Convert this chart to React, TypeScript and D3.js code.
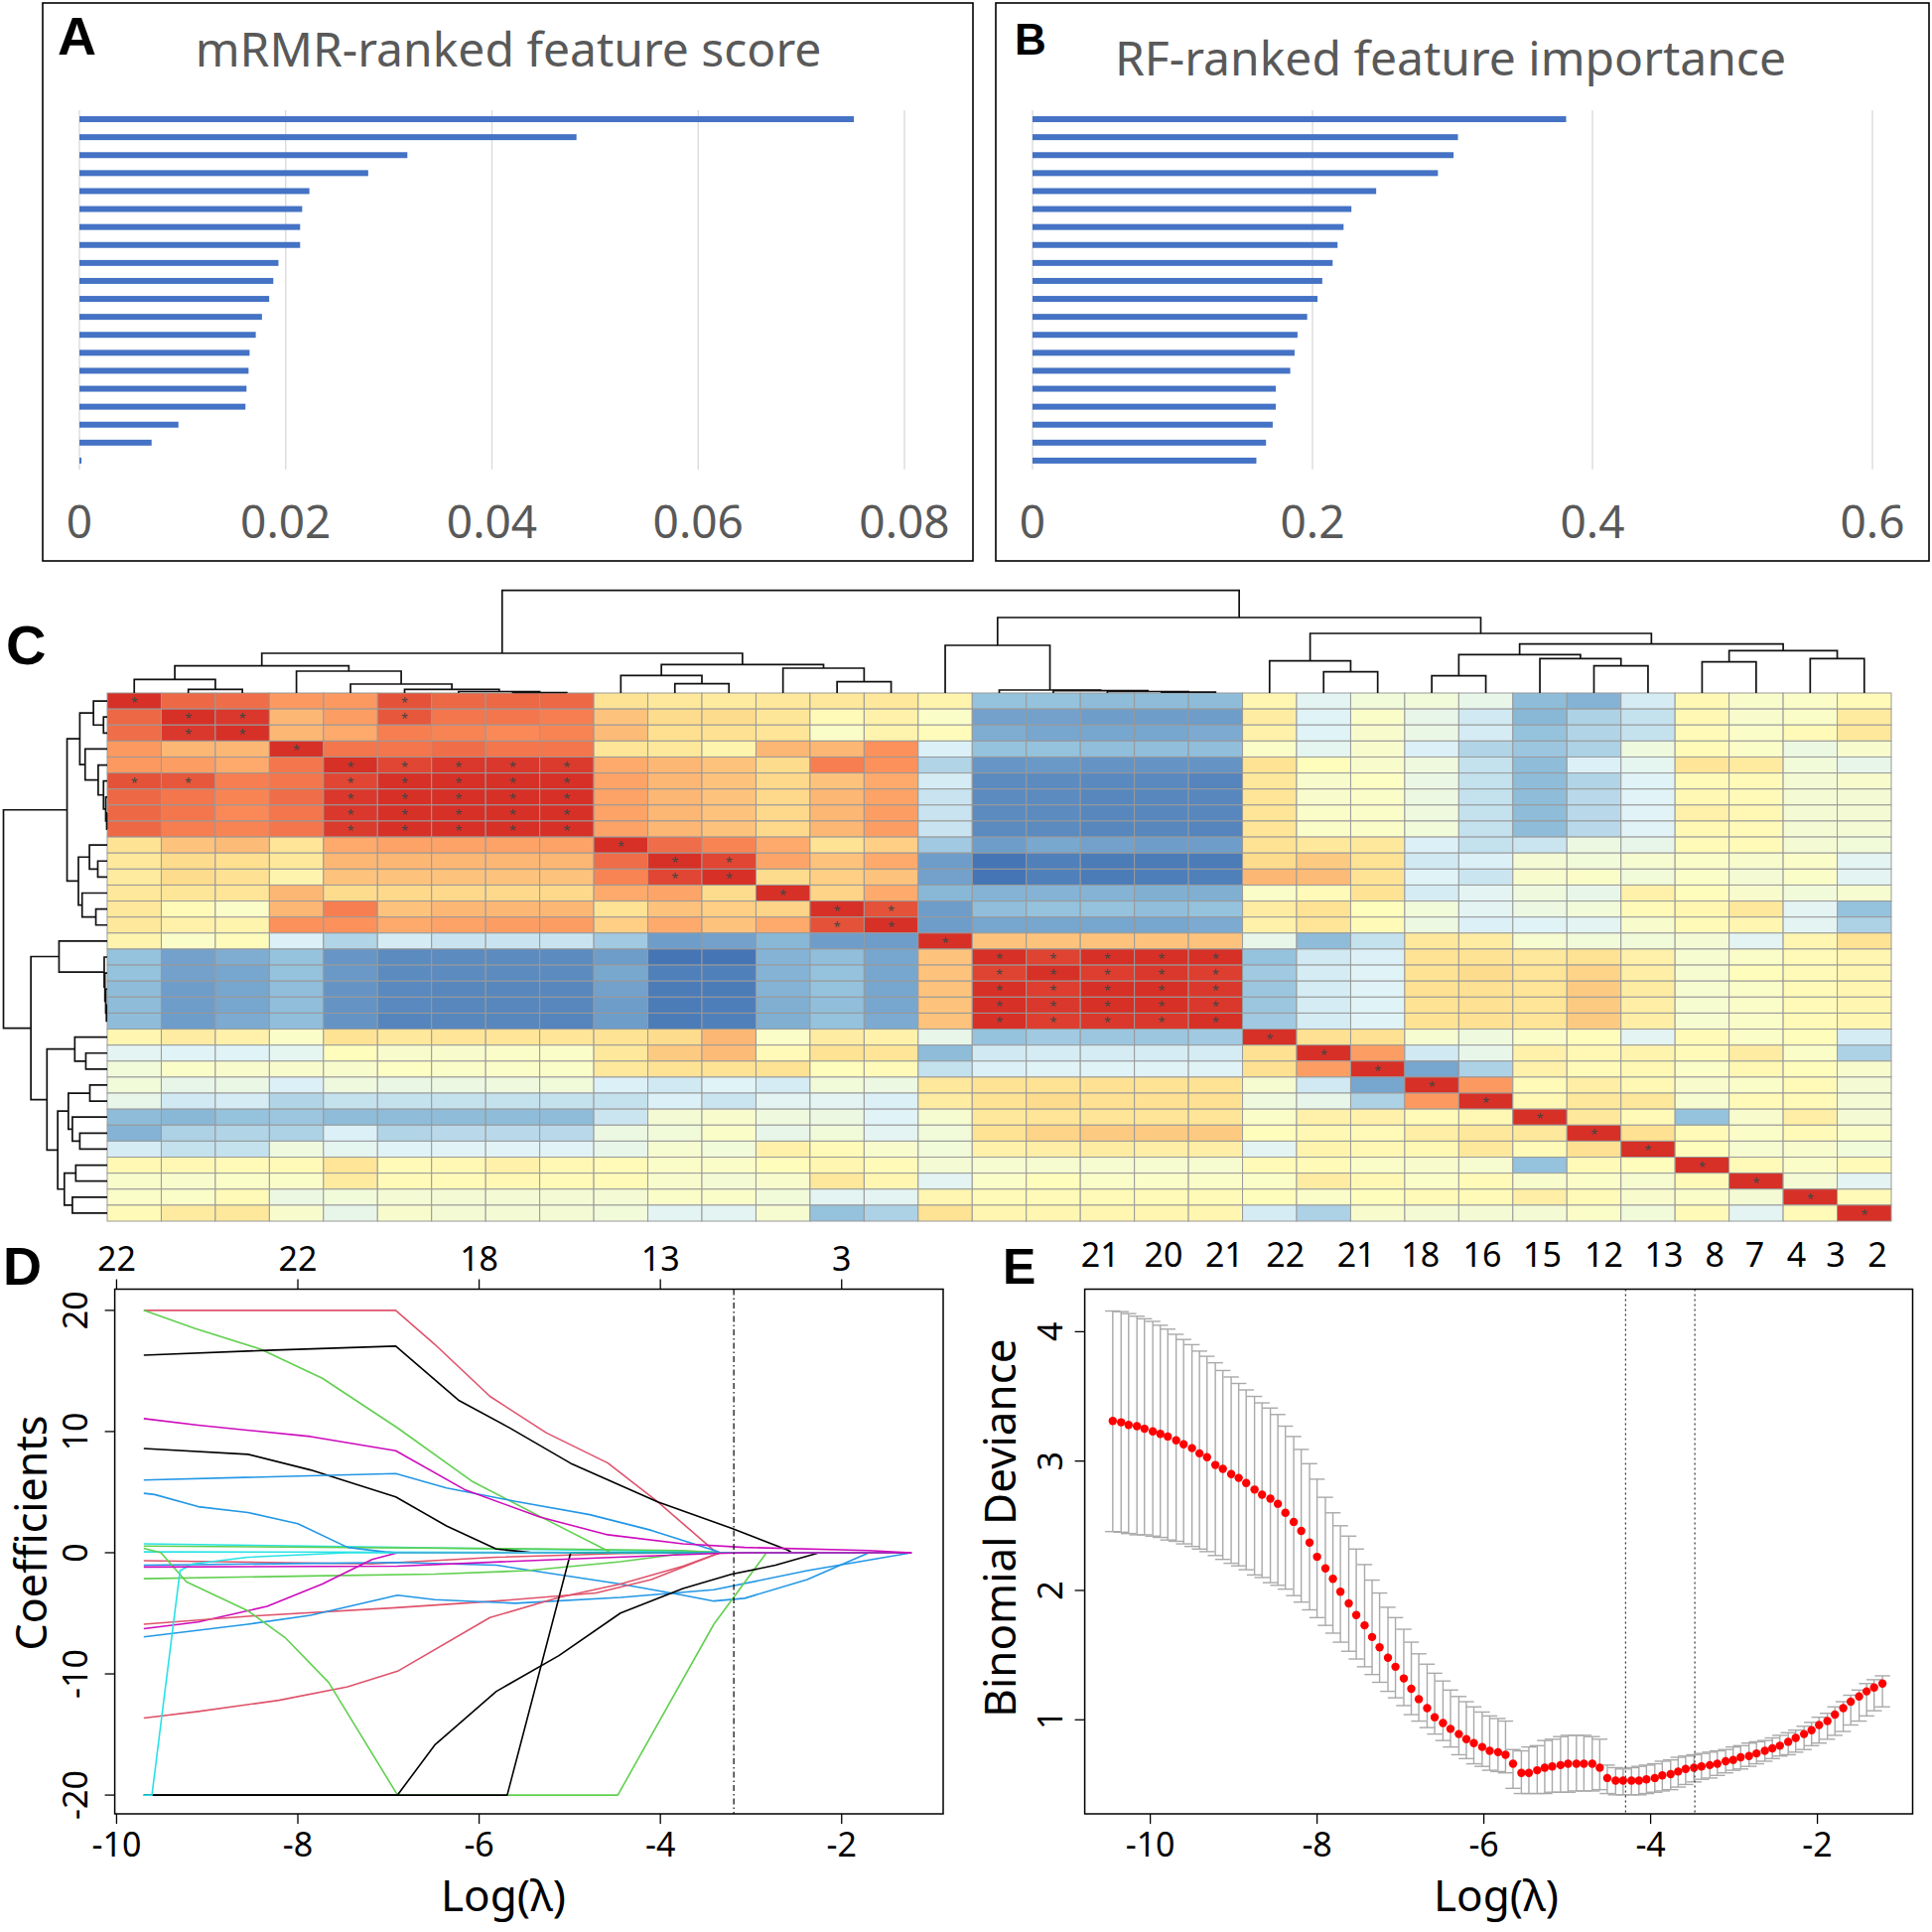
import React from 'react';
import * as d3 from 'd3';

// ---------------- Panel A / B data ----------------
const mrmrScores = [0.0751, 0.0482, 0.0318, 0.028, 0.0223, 0.0216, 0.0214, 0.0214, 0.0193, 0.0188, 0.0184, 0.0177, 0.0171, 0.0165, 0.0164, 0.0162, 0.0161, 0.0096, 0.007, 0.0002];
const mrmrTicks = [0, 0.02, 0.04, 0.06, 0.08];
const mrmrTickLabels = ['0', '0.02', '0.04', '0.06', '0.08'];
const rfScores = [0.3812, 0.3039, 0.3008, 0.2896, 0.2455, 0.2278, 0.2222, 0.2179, 0.2144, 0.207, 0.2036, 0.1962, 0.1893, 0.1872, 0.1841, 0.1738, 0.1738, 0.1716, 0.1668, 0.1599];
const rfTicks = [0, 0.2, 0.4, 0.6];
const rfTickLabels = ['0', '0.2', '0.4', '0.6'];

// ---------------- Panel C data (upper triangle, row i holds cols i..32) ----------------
const corrUpper: number[][] = [
  [1, 0.8, 0.78, 0.62, 0.62, 0.88, 0.8, 0.8, 0.8, 0.3, 0.25, 0.22, 0.25, 0.25, 0.25, 0.12, -0.65, -0.65, -0.68, -0.68, -0.68, 0.1, -0.3, -0.15, -0.15, -0.25, -0.68, -0.72, -0.38, 0.08, -0.07, -0.05, 0.05],
  [1, 0.97, 0.5, 0.6, 0.86, 0.75, 0.75, 0.72, 0.45, 0.35, 0.35, 0.27, 0.05, 0.15, -0.05, -0.8, -0.8, -0.82, -0.82, -0.82, 0.2, -0.33, -0.05, -0.25, -0.4, -0.7, -0.55, -0.45, 0.08, -0.08, -0.05, 0.22],
  [1, 0.5, 0.55, 0.72, 0.7, 0.68, 0.7, 0.48, 0.33, 0.32, 0.28, -0.05, 0.12, 0.03, -0.75, -0.78, -0.78, -0.78, -0.76, 0.15, -0.33, -0.08, -0.22, -0.38, -0.65, -0.53, -0.45, 0.05, -0.05, 0.05, 0.25],
  [1, 0.75, 0.75, 0.78, 0.75, 0.75, 0.28, 0.25, 0.12, 0.5, 0.5, 0.65, -0.35, -0.65, -0.65, -0.67, -0.67, -0.67, -0.05, -0.28, -0.08, -0.35, -0.53, -0.62, -0.55, -0.18, 0.05, -0.05, -0.2, -0.08],
  [1, 0.92, 0.97, 0.97, 0.96, 0.55, 0.5, 0.45, 0.35, 0.72, 0.65, -0.53, -0.85, -0.84, -0.86, -0.86, -0.86, 0.3, 0.02, -0.08, -0.18, -0.45, -0.68, -0.35, -0.28, 0.28, 0.22, -0.15, -0.25],
  [1, 1, 1, 1, 0.58, 0.5, 0.45, 0.36, 0.45, 0.55, -0.38, -0.9, -0.9, -0.91, -0.91, -0.93, 0.25, -0.08, -0.03, -0.22, -0.45, -0.68, -0.53, -0.33, 0.05, 0.05, -0.12, -0.08],
  [1, 1, 1, 0.58, 0.5, 0.45, 0.36, 0.5, 0.58, -0.43, -0.9, -0.9, -0.92, -0.92, -0.92, 0.28, -0.08, -0.05, -0.2, -0.45, -0.68, -0.5, -0.32, 0.08, 0.05, -0.12, -0.12],
  [1, 1, 0.58, 0.5, 0.45, 0.36, 0.5, 0.6, -0.43, -0.9, -0.9, -0.92, -0.92, -0.92, 0.28, -0.05, -0.05, -0.18, -0.45, -0.68, -0.5, -0.32, 0.15, 0.08, -0.12, -0.12],
  [1, 0.58, 0.5, 0.45, 0.36, 0.5, 0.6, -0.43, -0.9, -0.9, -0.92, -0.92, -0.93, 0.28, -0.05, -0.05, -0.15, -0.45, -0.68, -0.5, -0.32, 0.08, 0.05, -0.12, -0.12],
  [1, 0.78, 0.7, 0.55, 0.3, 0.4, -0.6, -0.82, -0.77, -0.8, -0.82, -0.82, 0.3, 0.25, 0.25, -0.35, -0.45, -0.42, -0.2, -0.25, 0.05, 0.05, -0.12, -0.15],
  [1, 0.92, 0.57, 0.45, 0.55, -0.82, -1, -0.95, -0.97, -0.97, -0.97, 0.35, 0.42, 0.3, -0.4, -0.35, -0.12, -0.15, -0.1, -0.05, -0.08, -0.05, -0.3],
  [1, 0.35, 0.4, 0.45, -0.8, -1, -0.95, -0.97, -0.96, -0.95, 0.5, 0.48, 0.3, -0.33, -0.42, -0.08, -0.05, -0.15, -0.05, -0.12, -0.05, -0.3],
  [1, 0.38, 0.55, -0.7, -0.72, -0.72, -0.72, -0.74, -0.74, -0.05, 0.05, 0.3, -0.38, -0.3, -0.18, -0.25, 0.15, 0.02, -0.08, -0.15, -0.1],
  [1, 0.88, -0.82, -0.67, -0.65, -0.65, -0.67, -0.65, 0.2, 0.3, 0.02, -0.15, -0.3, -0.2, -0.15, 0.05, 0.1, 0.25, -0.3, -0.65],
  [1, -0.82, -0.78, -0.78, -0.78, -0.78, -0.76, 0.15, 0.28, 0.05, -0.2, -0.35, -0.33, -0.3, -0.08, 0.05, 0.1, -0.3, -0.55],
  [1, 0.45, 0.45, 0.45, 0.45, 0.45, -0.25, -0.68, -0.45, 0.25, 0.2, -0.1, -0.15, -0.15, -0.12, -0.3, 0.1, 0.3],
  [1, 0.93, 1, 1, 1, -0.65, -0.4, -0.35, 0.3, 0.3, 0.25, 0.3, 0.15, -0.1, -0.05, 0.05, 0.1],
  [1, 0.95, 0.97, 0.95, -0.6, -0.38, -0.33, 0.3, 0.35, 0.28, 0.38, 0.18, -0.1, 0.02, 0.05, 0.1],
  [1, 1, 0.97, -0.62, -0.38, -0.33, 0.32, 0.32, 0.28, 0.42, 0.2, -0.1, -0.05, 0.05, 0.1],
  [1, 0.97, -0.62, -0.38, -0.33, 0.3, 0.32, 0.28, 0.42, 0.18, -0.1, -0.05, 0.05, 0.1],
  [1, -0.6, -0.38, -0.33, 0.3, 0.32, 0.28, 0.42, 0.18, -0.1, -0.05, 0.05, 0.1],
  [1, 0.32, 0.32, -0.1, -0.18, -0.05, 0.02, -0.3, 0.05, -0.05, 0.02, -0.38],
  [1, 0.6, -0.4, -0.25, 0.15, 0.08, 0.12, 0.05, 0.2, -0.05, -0.55],
  [1, -0.78, -0.55, 0.15, 0.05, 0.08, -0.05, 0.08, 0.02, -0.08],
  [1, 0.62, 0.05, 0.18, 0.08, -0.08, -0.05, 0.05, -0.12],
  [1, 0.08, 0.25, 0.25, -0.1, 0.05, 0.05, -0.12],
  [1, 0.25, 0.05, -0.65, -0.08, 0.18, -0.12],
  [1, 0.32, 0.05, -0.05, 0.05, -0.05],
  [1, 0.02, -0.1, -0.08, -0.15],
  [1, 0.05, -0.05, 0.05],
  [1, -0.12, -0.3],
  [1, 0.05],
  [1],
];
// dendrogram: [height, left, right]; leaves are column/row indices
type TreeNode = number | [number, TreeNode, TreeNode];
const featureTree: TreeNode = [103.3,
  [40,
    [27.3, [13.7, 0, [3.7, 1, 2]], [22, 3, [9, 4, [3.7, 5, [1.5, 6, [0.5, 7, 8]]]]]],
    [28.7, [17.7, 9, [9.4, 10, 11]], [25, 12, [11.3, 13, 14]]]],
  [76,
    [48, 15, [3, 16, [2.3, 17, [1.5, 18, [0.8, 19, 20]]]]],
    [60,
      [32.3, 21, [21.3, 22, 23]],
      [49.3,
        [38.7, [17.3, 24, 25], [34.7, 26, [27.3, 27, 28]]],
        [42.7, [31.3, 29, 30], [34.7, 31, 32]]]]]];
const heatColors = ['#4575B4', '#91BFDB', '#E0F3F8', '#FFFFBF', '#FEE090', '#FC8D59', '#D73027'];
const heatStops = [-1, -0.667, -0.333, 0, 0.333, 0.667, 1];

// ---------------- Panel D data ----------------
const coefColors = ['#000000', '#DF536B', '#61D04F', '#2297E6', '#28E2E5', '#CD0BBC'];
const coefPaths: { c: number; p: number[][] }[] = [
  { c: 4, p: [[-9.7, 0.07], [-1.23, 0]] },
  { c: 4, p: [[-9.7, 0.74], [-3.41, 0.07], [-3.34, 0], [-1.23, 0]] },
  { c: 2, p: [[-9.7, 0.55], [-5.12, 0.3], [-3.75, 0.18], [-3.3, 0], [-1.23, 0]] },
  { c: 1, p: [[-9.7, 20], [-6.92, 20], [-6.49, 17.2], [-5.88, 12.9], [-5.26, 9.9], [-4.58, 7.4], [-4.03, 4.2], [-3.41, 0.2], [-3.34, 0], [-1.23, 0]] },
  { c: 2, p: [[-9.7, 20], [-9.13, 18.5], [-8.41, 16.8], [-7.73, 14.4], [-6.9, 10.3], [-6.08, 5.9], [-5.33, 3.0], [-4.61, 0.26], [-4.55, 0], [-1.23, 0]] },
  { c: 0, p: [[-9.7, 16.3], [-8.34, 16.7], [-6.92, 17.05], [-6.22, 12.55], [-5.67, 10.33], [-4.99, 7.38], [-4.03, 4.2], [-3.21, 2.0], [-2.59, 0.2], [-2.55, 0], [-1.23, 0]] },
  { c: 0, p: [[-9.7, 8.6], [-8.55, 8.12], [-7.86, 6.83], [-6.92, 4.61], [-6.36, 2.21], [-5.81, 0.3], [-5.6, 0.15], [-5.4, 0], [-1.23, 0]] },
  { c: 3, p: [[-9.7, 6.0], [-6.92, 6.53], [-6.36, 5.35], [-5.6, 4.24], [-4.78, 3.14], [-4.1, 1.85], [-3.41, 0.2], [-3.34, 0], [-1.23, 0]] },
  { c: 3, p: [[-9.7, 4.9], [-9.58, 4.8], [-9.1, 3.8], [-8.55, 3.32], [-8.0, 2.4], [-7.45, 0.44], [-7.04, 0.07], [-6.9, 0], [-1.23, 0]] },
  { c: 1, p: [[-9.7, -0.66], [-7.18, -0.92], [-5.81, -0.37], [-4.44, -0.07], [-3.75, 0], [-1.23, 0]] },
  { c: 3, p: [[-9.7, -1.03], [-6.9, -0.8], [-5.81, -1.03], [-4.44, -2.58], [-3.75, -3.5], [-3.41, -3.99], [-3.07, -3.76], [-2.38, -2.21], [-1.7, 0], [-1.23, 0]] },
  { c: 2, p: [[-9.7, -2.14], [-7.86, -1.92], [-6.49, -1.77], [-5.47, -1.48], [-4.44, -0.74], [-3.75, -0.07], [-3.6, 0], [-1.23, 0]] },
  { c: 5, p: [[-9.7, -6.27], [-9.1, -5.72], [-8.34, -4.43], [-7.73, -2.58], [-7.18, -0.55], [-6.9, 0], [-1.23, 0]] },
  { c: 1, p: [[-9.7, -5.9], [-8.55, -5.24], [-6.92, -4.54], [-5.81, -3.99], [-4.71, -3.32], [-4.1, -2.21], [-3.41, -0.18], [-3.34, 0], [-1.23, 0]] },
  { c: 3, p: [[-9.7, -6.94], [-8.55, -5.9], [-7.86, -5.17], [-6.9, -3.51], [-6.49, -3.87], [-5.6, -4.17], [-4.44, -3.69], [-3.41, -3.06], [-2.38, -1.48], [-1.23, 0]] },
  { c: 1, p: [[-9.7, -13.65], [-9.1, -13.1], [-8.21, -12.18], [-7.45, -11.07], [-6.9, -9.78], [-5.88, -5.35], [-5.12, -3.69], [-4.44, -2.58], [-3.75, -1.11], [-3.41, -0.18], [-3.34, 0], [-1.23, 0]] },
  { c: 2, p: [[-9.7, 0.37], [-9.51, 0], [-9.23, -2.4], [-8.55, -4.8], [-8.14, -7.01], [-7.66, -10.7], [-6.9, -20], [-4.47, -20], [-3.41, -5.9], [-2.83, 0], [-1.23, 0]] },
  { c: 0, p: [[-9.7, -20], [-6.9, -20], [-6.49, -15.87], [-5.81, -11.44], [-5.12, -8.49], [-4.44, -4.98], [-3.75, -2.95], [-3.21, -1.77], [-2.73, -1.03], [-2.25, 0], [-1.23, 0]] },
  { c: 0, p: [[-9.7, -20], [-5.69, -20], [-4.99, 0], [-1.23, 0]] },
  { c: 4, p: [[-9.7, -20], [-9.61, -20], [-9.3, -1.48], [-9.16, -0.92], [-8.55, -0.37], [-7.45, 0], [-1.23, 0]] },
  { c: 5, p: [[-9.7, -1.18], [-6.9, -1.11], [-5.12, -0.55], [-3.41, -0.07], [-3.07, 0], [-1.23, 0]] },
  { c: 5, p: [[-9.7, 11.07], [-9.1, 10.52], [-7.86, 9.59], [-6.92, 8.41], [-6.15, 5.17], [-5.33, 2.95], [-4.58, 1.48], [-3.75, 0.74], [-3.07, 0.44], [-1.7, 0.18], [-1.23, 0]] },
];
const dXTicks = [-10, -8, -6, -4, -2];
const dTopLabels = ['22', '22', '18', '13', '3'];
const dYTicks = [20, 10, 0, -10, -20];
const dLambdaSel = -3.19;

// ---------------- Panel E data ----------------
const logLambdaE = [-10.45, -10.35, -10.26, -10.16, -10.07, -9.97, -9.88, -9.79, -9.69, -9.6,
  -9.5, -9.41, -9.32, -9.22, -9.13, -9.03, -8.94, -8.85, -8.75, -8.66,
  -8.56, -8.47, -8.38, -8.28, -8.19, -8.09, -8.0, -7.9, -7.81, -7.72,
  -7.62, -7.53, -7.43, -7.34, -7.25, -7.15, -7.06, -6.96, -6.87, -6.78,
  -6.68, -6.59, -6.49, -6.4, -6.3, -6.21, -6.12, -6.02, -5.93, -5.83,
  -5.74, -5.65, -5.55, -5.46, -5.36, -5.27, -5.18, -5.08, -4.99, -4.89,
  -4.8, -4.7, -4.61, -4.52, -4.42, -4.33, -4.23, -4.14, -4.05, -3.95,
  -3.86, -3.76, -3.67, -3.58, -3.48, -3.39, -3.29, -3.2, -3.1, -3.01,
  -2.92, -2.82, -2.73, -2.63, -2.54, -2.45, -2.35, -2.26, -2.16, -2.07,
  -1.98, -1.88, -1.79, -1.69, -1.6, -1.5, -1.41, -1.32, -1.22];
const cvMean = [3.31, 3.3, 3.28, 3.27, 3.25, 3.23, 3.21, 3.19, 3.16, 3.13,
  3.1, 3.06, 3.03, 2.97, 2.94, 2.9, 2.87, 2.83, 2.78, 2.74,
  2.71, 2.67, 2.6, 2.53, 2.46, 2.37, 2.26, 2.17, 2.09, 1.99,
  1.9, 1.81, 1.73, 1.64, 1.56, 1.48, 1.41, 1.32, 1.24, 1.16,
  1.09, 1.02, 0.975, 0.93, 0.89, 0.85, 0.82, 0.79, 0.76, 0.75,
  0.73, 0.66, 0.59, 0.59, 0.61, 0.63, 0.64, 0.65, 0.66, 0.66,
  0.66, 0.66, 0.63, 0.55, 0.53, 0.53, 0.53, 0.53, 0.54, 0.55,
  0.57, 0.58, 0.6, 0.62, 0.63, 0.64, 0.65, 0.66, 0.68, 0.69,
  0.71, 0.72, 0.74, 0.76, 0.78, 0.8, 0.83, 0.86, 0.89, 0.92,
  0.96, 0.99, 1.04, 1.09, 1.14, 1.18, 1.22, 1.25, 1.28];
const cvUp = [4.16, 4.155, 4.14, 4.12, 4.1, 4.08, 4.05, 4.02, 3.98, 3.94,
  3.9, 3.85, 3.81, 3.76, 3.7, 3.65, 3.6, 3.55, 3.5, 3.45,
  3.41, 3.36, 3.27, 3.19, 3.09, 2.98, 2.86, 2.72, 2.6, 2.5,
  2.42, 2.32, 2.2, 2.08, 1.98, 1.87, 1.79, 1.7, 1.6, 1.51,
  1.43, 1.36, 1.3, 1.23, 1.18, 1.14, 1.1, 1.06, 1.03, 1.01,
  0.99, 0.77, 0.76, 0.79, 0.8, 0.84, 0.85, 0.87, 0.88, 0.88,
  0.88, 0.87, 0.85, 0.65, 0.63, 0.62, 0.63, 0.64, 0.65, 0.66,
  0.68, 0.69, 0.71, 0.72, 0.73, 0.74, 0.75, 0.76, 0.77, 0.79,
  0.8, 0.82, 0.83, 0.84, 0.86, 0.88, 0.9, 0.92, 0.95, 0.98,
  1.02, 1.05, 1.1, 1.14, 1.19, 1.23, 1.28, 1.31, 1.34];
const cvLo = [2.455, 2.45, 2.44, 2.43, 2.43, 2.42, 2.41, 2.39, 2.38, 2.36,
  2.34, 2.32, 2.3, 2.27, 2.24, 2.21, 2.19, 2.16, 2.12, 2.1,
  2.06, 2.04, 2.01, 1.96, 1.91, 1.85, 1.79, 1.73, 1.67, 1.6,
  1.53, 1.47, 1.41, 1.35, 1.29, 1.22, 1.17, 1.11, 1.04, 0.99,
  0.94, 0.89, 0.84, 0.79, 0.73, 0.7, 0.66, 0.64, 0.61, 0.6,
  0.59, 0.47, 0.43, 0.43, 0.43, 0.43, 0.44, 0.44, 0.44, 0.45,
  0.45, 0.45, 0.46, 0.43, 0.42, 0.42, 0.42, 0.42, 0.43, 0.44,
  0.45, 0.46, 0.48, 0.5, 0.52, 0.54, 0.55, 0.57, 0.59, 0.61,
  0.62, 0.64, 0.66, 0.68, 0.7, 0.72, 0.73, 0.75, 0.77, 0.8,
  0.82, 0.85, 0.88, 0.91, 0.96, 0.99, 1.03, 1.07, 1.1];
const eTopLabels = ['21', '20', '21', '22', '21', '18', '16', '15', '12', '13', '8', '7', '4', '3', '2'];
const eTopPos = [-10.6, -9.84, -9.11, -8.38, -7.53, -6.76, -6.02, -5.3, -4.56, -3.84, -3.23, -2.75, -2.25, -1.78, -1.28];
const eXTicks = [-10, -8, -6, -4, -2];
const eYTicks = [1, 2, 3, 4];
const eLambdaMin = -4.3;
const eLambda1se = -3.47;

const SANS = "'Noto Sans', 'DejaVu Sans', sans-serif";
const BOLD = "'Liberation Sans', Arial, sans-serif";

function BarPanel(props: any) {
  const { box, title, titleX, titleY, letter, letterX, letterY, letterSize, values, domainMax, ticks, tickLabels, x0, x1 } = props;
  const x = d3.scaleLinear().domain([0, domainMax]).range([x0, x1]);
  const y = d3.scaleBand<number>().domain(d3.range(values.length)).range([111, 473]).paddingInner(0.67).paddingOuter(0.335);
  return (
    <g>
      <rect x={box[0]} y={box[1]} width={box[2] - box[0]} height={box[3] - box[1]} fill="none" stroke="#000" strokeWidth={1.6} />
      <text x={letterX} y={letterY} fontFamily={BOLD} fontWeight="bold" fontSize={letterSize}>{letter}</text>
      <text x={titleX} y={titleY} textAnchor="middle" fontFamily={SANS} fontSize={48} fill="#595959">{title}</text>
      {ticks.map((t: number, i: number) => (
        <line key={'g' + i} x1={x(t)} x2={x(t)} y1={111} y2={473} stroke="#D9D9D9" strokeWidth={1.3} />
      ))}
      {values.map((v: number, i: number) => (
        <rect key={'b' + i} x={x(0)} y={y(i)} width={x(v) - x(0)} height={y.bandwidth()} fill="#4472C4" />
      ))}
      {ticks.map((t: number, i: number) => (
        <text key={'t' + i} x={x(t)} y={542} textAnchor="middle" fontFamily={SANS} fontSize={46} fill="#595959">{tickLabels[i]}</text>
      ))}
    </g>
  );
}

function Heatmap() {
  const n = corrUpper.length;
  const hx0 = 108, hx1 = 1905, hy0 = 698, hy1 = 1230;
  const colX = d3.scaleBand<number>().domain(d3.range(n)).range([hx0, hx1]);
  const rowY = d3.scaleBand<number>().domain(d3.range(n)).range([hy0, hy1]);
  const color = d3.scaleLinear<string>().domain(heatStops).range(heatColors).clamp(true);
  const val = (i: number, j: number) => (i <= j ? corrUpper[i][j - i] : corrUpper[j][i - j]);
  const cells: any[] = [];
  for (let i = 0; i < n; i++) {
    for (let j = 0; j < n; j++) {
      const v = val(i, j);
      cells.push(
        <rect key={`c${i}-${j}`} x={colX(j)} y={rowY(i)} width={colX.bandwidth()} height={rowY.bandwidth()} fill={color(v)} stroke="#999999" strokeWidth={1} />
      );
      if (v >= 0.85) {
        cells.push(
          <text key={`s${i}-${j}`} x={(colX(j) as number) + colX.bandwidth() / 2} y={(rowY(i) as number) + rowY.bandwidth() / 2 + 6} textAnchor="middle" fontFamily={SANS} fontSize={13} fill="#444">*</text>
        );
      }
    }
  }
  const topH = d3.scaleLinear().domain([0, 103.3]).range([hy0, 594.7]);
  const leftH = d3.scaleLinear().domain([0, 103.3]).range([hx0, 3.5]);
  const topPaths: string[] = [];
  const leftPaths: string[] = [];
  const walk = (node: TreeNode): { c: number; h: number } => {
    if (typeof node === 'number') return { c: node, h: 0 };
    const [h, a, b] = node;
    const A = walk(a), B = walk(b);
    const ca = A.c, cb = B.c;
    const pxA = (colX(Math.floor(ca)) as number) + colX.bandwidth() * (0.5 + ca - Math.floor(ca));
    const pxB = (colX(Math.floor(cb)) as number) + colX.bandwidth() * (0.5 + cb - Math.floor(cb));
    topPaths.push(`M${pxA},${topH(A.h)}V${topH(h)}H${pxB}V${topH(B.h)}`);
    const pyA = (rowY(Math.floor(ca)) as number) + rowY.bandwidth() * (0.5 + ca - Math.floor(ca));
    const pyB = (rowY(Math.floor(cb)) as number) + rowY.bandwidth() * (0.5 + cb - Math.floor(cb));
    leftPaths.push(`M${leftH(A.h)},${pyA}H${leftH(h)}V${pyB}H${leftH(B.h)}`);
    return { c: (ca + cb) / 2, h };
  };
  walk(featureTree);
  return (
    <g>
      <text x={6} y={669} fontFamily={BOLD} fontWeight="bold" fontSize={56}>C</text>
      {cells}
      {topPaths.map((d, i) => <path key={'tp' + i} d={d} fill="none" stroke="#111" strokeWidth={1.7} />)}
      {leftPaths.map((d, i) => <path key={'lp' + i} d={d} fill="none" stroke="#111" strokeWidth={1.7} />)}
    </g>
  );
}

function PanelD() {
  const bx0 = 115.6, bx1 = 950, by0 = 1298.5, by1 = 1827;
  const x = d3.scaleLinear().domain([-10.02, -0.88]).range([bx0, bx1]);
  const y = d3.scaleLinear().domain([-21.55, 21.75]).range([by1, by0]);
  const line = d3.line<number[]>().x((d) => x(d[0])).y((d) => y(d[1]));
  return (
    <g fontFamily={SANS}>
      <text x={3} y={1294} fontFamily={BOLD} fontWeight="bold" fontSize={54}>D</text>
      {coefPaths.map((p, i) => (
        <path key={'cp' + i} d={line(p.p) as string} fill="none" stroke={coefColors[p.c]} strokeWidth={1.6} strokeLinejoin="round" />
      ))}
      <line x1={x(dLambdaSel)} x2={x(dLambdaSel)} y1={by0} y2={by1} stroke="#000" strokeWidth={1.2} strokeDasharray="6,3,1.5,3" />
      <rect x={bx0} y={by0} width={bx1 - bx0} height={by1 - by0} fill="none" stroke="#000" strokeWidth={1.5} />
      {dXTicks.map((t, i) => (
        <g key={'dx' + i}>
          <line x1={x(t)} x2={x(t)} y1={by1} y2={by1 + 10} stroke="#000" strokeWidth={1.3} />
          <text x={x(t)} y={1870} textAnchor="middle" fontSize={34}>{t}</text>
          <line x1={x(t)} x2={x(t)} y1={by0} y2={by0 - 10} stroke="#000" strokeWidth={1.3} />
          <text x={x(t)} y={1280} textAnchor="middle" fontSize={34}>{dTopLabels[i]}</text>
        </g>
      ))}
      {dYTicks.map((t, i) => (
        <g key={'dy' + i}>
          <line x1={bx0} x2={bx0 - 10} y1={y(t)} y2={y(t)} stroke="#000" strokeWidth={1.3} />
          <text transform={`translate(${88},${y(t)}) rotate(-90)`} textAnchor="middle" fontSize={34}>{t}</text>
        </g>
      ))}
      <text transform={`translate(47,1544) rotate(-90)`} textAnchor="middle" fontSize={43}>Coefficients</text>
      <text x={507} y={1925} textAnchor="middle" fontSize={44}>Log(λ)</text>
    </g>
  );
}

function PanelE() {
  const bx0 = 1092.6, bx1 = 1926.5, by0 = 1298.5, by1 = 1827;
  const x = d3.scaleLinear().domain([-10.786, -0.858]).range([bx0, bx1]);
  const y = d3.scaleLinear().domain([0.273, 4.329]).range([by1, by0]);
  const capW = 0.092;
  return (
    <g fontFamily={SANS}>
      <text x={1010} y={1293} fontFamily={BOLD} fontWeight="bold" fontSize={50}>E</text>
      {logLambdaE.map((l, i) => (
        <g key={'eb' + i} stroke="#A9A9A9" strokeWidth={1.4}>
          <line x1={x(l)} x2={x(l)} y1={y(cvLo[i])} y2={y(cvUp[i])} />
          <line x1={x(l - capW)} x2={x(l + capW)} y1={y(cvUp[i])} y2={y(cvUp[i])} />
          <line x1={x(l - capW)} x2={x(l + capW)} y1={y(cvLo[i])} y2={y(cvLo[i])} />
        </g>
      ))}
      {logLambdaE.map((l, i) => (
        <circle key={'ed' + i} cx={x(l)} cy={y(cvMean[i])} r={4.2} fill="#FF0000" />
      ))}
      {[eLambdaMin, eLambda1se].map((l, i) => (
        <line key={'ev' + i} x1={x(l)} x2={x(l)} y1={by0} y2={by1} stroke="#333" strokeWidth={1.2} strokeDasharray="2,3" />
      ))}
      <rect x={bx0} y={by0} width={bx1 - bx0} height={by1 - by0} fill="none" stroke="#000" strokeWidth={1.5} />
      {eXTicks.map((t, i) => (
        <g key={'ex' + i}>
          <line x1={x(t)} x2={x(t)} y1={by1} y2={by1 + 10} stroke="#000" strokeWidth={1.3} />
          <text x={x(t)} y={1870} textAnchor="middle" fontSize={34}>{t}</text>
        </g>
      ))}
      {eYTicks.map((t, i) => (
        <g key={'ey' + i}>
          <line x1={bx0} x2={bx0 - 10} y1={y(t)} y2={y(t)} stroke="#000" strokeWidth={1.3} />
          <text transform={`translate(${1070},${y(t)}) rotate(-90)`} textAnchor="middle" fontSize={34}>{t}</text>
        </g>
      ))}
      {eTopLabels.map((s, i) => (
        <text key={'et' + i} x={x(eTopPos[i])} y={1276} textAnchor="middle" fontSize={34}>{s}</text>
      ))}
      <text transform={`translate(1023,1539) rotate(-90)`} textAnchor="middle" fontSize={44}>Binomial Deviance</text>
      <text x={1507} y={1925} textAnchor="middle" fontSize={44}>Log(λ)</text>
    </g>
  );
}

export default function App() {
  return (
    <svg width={1946} height={1946} viewBox="0 0 1946 1946" style={{ position: 'absolute', left: 0, top: 0, background: '#fff' }}>
      <rect x={0} y={0} width={1946} height={1946} fill="#fff" />
      <BarPanel box={[43, 3, 980, 565]} title="mRMR-ranked feature score" titleX={512} titleY={67} letter="A" letterX={58} letterY={55} letterSize={54}
        values={mrmrScores} domainMax={0.08} ticks={mrmrTicks} tickLabels={mrmrTickLabels} x0={80} x1={911} />
      <BarPanel box={[1003, 3, 1943, 565]} title="RF-ranked feature importance" titleX={1461} titleY={76} letter="B" letterX={1022} letterY={55} letterSize={44}
        values={rfScores} domainMax={0.6} ticks={rfTicks} tickLabels={rfTickLabels} x0={1040} x1={1886} />
      <Heatmap />
      <PanelD />
      <PanelE />
    </svg>
  );
}
